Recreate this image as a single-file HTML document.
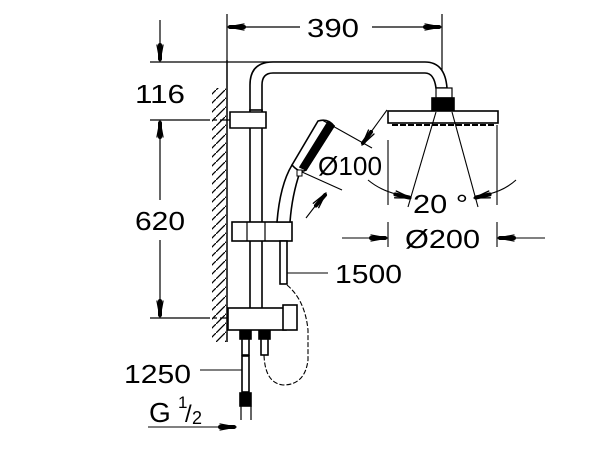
<!DOCTYPE html>
<html><head><style>
html,body{margin:0;padding:0;background:#fff;}
svg{display:block;}
text{font-family:"Liberation Sans",sans-serif;fill:#000;}
</style></head><body>
<svg width="600" height="450" viewBox="0 0 600 450" xmlns="http://www.w3.org/2000/svg">
<defs>
<pattern id="h" width="9" height="9" patternUnits="userSpaceOnUse"><path d="M-2,11 L11,-2" stroke="#000" stroke-width="1.3"/></pattern>
</defs>
<g stroke="#000" fill="none" stroke-width="1.2">
<line x1="227" y1="14" x2="227" y2="60"/>
<line x1="442" y1="14" x2="442" y2="90"/>
<line x1="300" y1="27" x2="230" y2="27"/>
<line x1="372" y1="27" x2="439" y2="27"/>
<line x1="160" y1="20" x2="160" y2="50"/>
<line x1="150" y1="62" x2="300" y2="62"/>
<line x1="150" y1="120" x2="232" y2="120" stroke-dasharray="60,3,4,3"/>
<line x1="160" y1="200" x2="160" y2="130"/>
<line x1="160" y1="240" x2="160" y2="305"/>
<line x1="150" y1="318" x2="232" y2="318" stroke-dasharray="60,3,4,3"/>
<line x1="227" y1="60" x2="227" y2="342" stroke-width="1.5"/>
</g>
<rect x="212" y="88" width="14" height="254" fill="url(#h)"/>
<g stroke="#000" fill="#fff" stroke-width="1.6">
<path d="M250,120 L250,85 Q250,62 273,62 L425,62 Q445,62 447,88 L436,88 Q434,73 425,73 L273,73 Q262,73 262,85 L262,120" />
<rect x="250" y="110" width="12" height="210"/>
<path d="M230,112 L266,112 L266,128 L230,128 Z"/>
<rect x="436" y="88" width="16" height="10" stroke-width="1.2"/>
<rect x="432" y="98" width="22" height="13" fill="#000"/>
<rect x="388" y="111" width="110" height="12"/>
<line x1="392" y1="125" x2="494" y2="125" stroke-dasharray="6,2" stroke-width="2"/>
<rect x="232" y="222" width="60" height="19"/>
<line x1="247" y1="222" x2="247" y2="241" stroke-width="1.2"/>
<line x1="265" y1="222" x2="265" y2="241" stroke-width="1.2"/>
<path d="M277,222 Q280,185 292,165 L300,172 Q292,195 290,222 Z"/>
<path d="M292,165 L318,121 Q328,118 334,126 L306,170 Q300,174 292,165 Z"/>
<path d="M328,122 L334,126 L306,170 L300,167 Z" fill="#000"/>
<rect x="297" y="170" width="5" height="6" stroke-width="1"/>
<rect x="280" y="241" width="7" height="43"/>
<rect x="228" y="308" width="58" height="22"/>
<rect x="283" y="305" width="14" height="25"/>
<rect x="240" y="331" width="11" height="8" fill="#000"/>
<rect x="259" y="331" width="11" height="8" fill="#000"/>
<rect x="242" y="339" width="7" height="16"/>
<rect x="261" y="339" width="7" height="16"/>
<rect x="242" y="356" width="7" height="36"/>
<rect x="240" y="393" width="11" height="13" fill="#000"/>
<line x1="241" y1="406" x2="241" y2="420" stroke-width="1.2"/>
<line x1="251" y1="406" x2="251" y2="420" stroke-width="1.2"/>
</g>
<g stroke="#000" fill="none" stroke-width="1.1">
<path d="M287,285 Q305,300 308,330 L308,360 Q305,385 283,385 Q265,383 264,355" stroke-dasharray="5,2"/>
<line x1="287" y1="273" x2="328" y2="273"/>
<line x1="200" y1="370" x2="242" y2="370"/>
<line x1="148" y1="427" x2="222" y2="427"/>
<line x1="322" y1="120" x2="372" y2="148"/>
<line x1="302" y1="172" x2="342" y2="190"/>
<line x1="387" y1="110" x2="371" y2="132"/>
<line x1="306" y1="218" x2="316" y2="205"/>
<line x1="436" y1="112" x2="408" y2="207"/>
<line x1="452" y1="112" x2="478" y2="207"/>
<path d="M368,180 Q380,190 396,194"/>
<path d="M516,180 Q505,190 489,194"/>
<line x1="388" y1="140" x2="388" y2="205"/>
<line x1="388" y1="222" x2="388" y2="247"/>
<line x1="497" y1="125" x2="497" y2="205"/>
<line x1="497" y1="222" x2="497" y2="247"/>
<line x1="342" y1="238" x2="373" y2="238"/>
<line x1="545" y1="238" x2="512" y2="238"/>
</g>
<!-- arrowheads drawn as stroked wedges -->
<g stroke="#000" stroke-width="1.3" fill="none" stroke-linecap="round">
<line x1="228" y1="27" x2="244" y2="24"/><line x1="228" y1="27" x2="244" y2="30"/><line x1="230" y1="27" x2="244" y2="27" stroke-width="4"/>
<line x1="441" y1="27" x2="425" y2="24"/><line x1="441" y1="27" x2="425" y2="30"/><line x1="439" y1="27" x2="425" y2="27" stroke-width="4"/>
<line x1="160" y1="61" x2="157" y2="45"/><line x1="160" y1="61" x2="163" y2="45"/><line x1="160" y1="59" x2="160" y2="45" stroke-width="4"/>
<line x1="160" y1="121" x2="157" y2="137"/><line x1="160" y1="121" x2="163" y2="137"/><line x1="160" y1="123" x2="160" y2="137" stroke-width="4"/>
<line x1="160" y1="317" x2="157" y2="301"/><line x1="160" y1="317" x2="163" y2="301"/><line x1="160" y1="315" x2="160" y2="301" stroke-width="4"/>
<line x1="236" y1="427" x2="220" y2="424"/><line x1="236" y1="427" x2="220" y2="430"/><line x1="234" y1="427" x2="220" y2="427" stroke-width="4"/>
<line x1="387" y1="238" x2="371" y2="235"/><line x1="387" y1="238" x2="371" y2="241"/><line x1="385" y1="238" x2="371" y2="238" stroke-width="4"/>
<line x1="498" y1="238" x2="514" y2="235"/><line x1="498" y1="238" x2="514" y2="241"/><line x1="500" y1="238" x2="514" y2="238" stroke-width="4"/>
<line x1="362" y1="145" x2="374" y2="134"/><line x1="362" y1="145" x2="368.5" y2="130"/><line x1="363" y1="143" x2="371" y2="132" stroke-width="4"/>
<line x1="326" y1="193" x2="318.7" y2="207.7"/><line x1="326" y1="193" x2="313.3" y2="203.3"/><line x1="325" y1="195" x2="316" y2="205.5" stroke-width="4"/>
<line x1="411" y1="198" x2="394.6" y2="197.8"/><line x1="411" y1="198" x2="396.2" y2="191"/><line x1="409" y1="197.5" x2="395.4" y2="194.4" stroke-width="4"/>
<line x1="474" y1="198" x2="490.4" y2="197.8"/><line x1="474" y1="198" x2="488.8" y2="191"/><line x1="476" y1="197.5" x2="489.6" y2="194.4" stroke-width="4"/>
</g>
<text x="307" y="37" font-size="26" textLength="52" lengthAdjust="spacingAndGlyphs">390</text>
<text x="135" y="103" font-size="26" textLength="50" lengthAdjust="spacingAndGlyphs">116</text>
<rect x="132" y="204" width="55" height="30" fill="#fff"/>
<text x="135" y="230" font-size="26" textLength="50" lengthAdjust="spacingAndGlyphs">620</text>
<text x="318" y="175" font-size="26" textLength="64" lengthAdjust="spacingAndGlyphs">Ø100</text>
<text x="413" y="213" font-size="26" textLength="55" lengthAdjust="spacingAndGlyphs">20 °</text>
<text x="405" y="248" font-size="26" textLength="75" lengthAdjust="spacingAndGlyphs">Ø200</text>
<text x="335" y="283" font-size="26" textLength="67" lengthAdjust="spacingAndGlyphs">1500</text>
<text x="124" y="383" font-size="26" textLength="67" lengthAdjust="spacingAndGlyphs">1250</text>
<text x="149" y="422" font-size="28">G</text>
<text x="178" y="408" font-size="17">1</text>
<text x="185" y="422" font-size="24">/</text>
<text x="192" y="424" font-size="18">2</text>
</svg>
</body></html>
